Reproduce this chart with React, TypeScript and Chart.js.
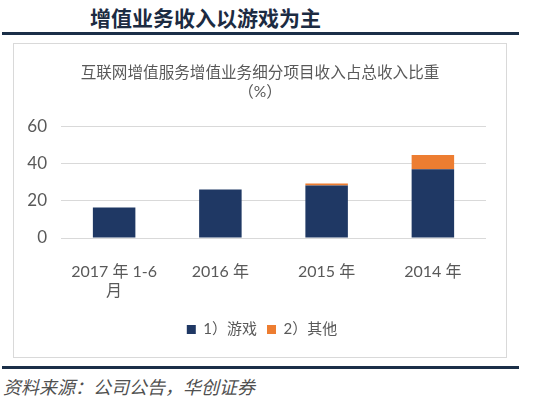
import React, { useEffect, useRef } from "react";
import { Chart, registerables } from "chart.js";

Chart.register(...registerables);

const pageTitle = "增值业务收入以游戏为主";
const chartTitle = ["互联网增值服务增值业务细分项目收入占总收入比重", "（%）"];
const sourceText = "资料来源：公司公告，华创证券";

const categories: (string | string[])[] = [["2017 年 1-6", "月"], "2016 年", "2015 年", "2014 年"];
const seriesNames = ["1）游戏", "2）其他"];
const gameValues = [16.5, 26.2, 28.4, 37.2];
const otherValues = [0, 0, 1.0, 7.6];
const yTicks = [0, 20, 40, 60];

const FONT = "Lato, 'Noto Sans CJK SC', sans-serif";
const NAVY = "#1f3864";
const ORANGE = "#ed7d31";
const GRAY_TEXT = "#595959";

// Centre title and legend over the whole chart frame (as in the reference), not the padded layout box
const centrePlugin = {
  id: "frameCentre",
  afterLayout(chart: any) {
    if (chart.legend) chart.legend.left += 24;
    if (chart.titleBlock) chart.titleBlock.left += 20;
  },
};

export default function App() {
  const canvasRef = useRef<HTMLCanvasElement | null>(null);

  useEffect(() => {
    const canvas = canvasRef.current;
    if (!canvas) return;
    const chart = new Chart(canvas, {
      type: "bar",
      data: {
        labels: categories as any,
        datasets: [
          { label: seriesNames[0], data: gameValues, backgroundColor: NAVY, borderWidth: 0 },
          { label: seriesNames[1], data: otherValues, backgroundColor: ORANGE, borderWidth: 0 },
        ],
      },
      plugins: [centrePlugin],
      options: {
        animation: false,
        responsive: false,
        maintainAspectRatio: false,
        layout: { padding: { left: 0, right: 20, top: 0, bottom: 10 } },
        datasets: { bar: { categoryPercentage: 1, barPercentage: 0.4 } },
        plugins: {
          title: {
            display: true,
            text: chartTitle,
            color: GRAY_TEXT,
            font: { family: FONT, size: 15.6, weight: "normal", lineHeight: 1.22 },
            padding: { top: 18, bottom: 25.9 },
          },
          legend: {
            display: true,
            position: "bottom",
            labels: {
              color: GRAY_TEXT,
              font: { family: FONT, size: 15 },
              boxWidth: 9,
              boxHeight: 9,
              padding: 10,
            },
          },
          tooltip: { enabled: false },
        },
        scales: {
          x: {
            stacked: true,
            grid: { display: false },
            border: { display: false },
            ticks: {
              color: GRAY_TEXT,
              font: { family: FONT, size: 16, lineHeight: 1.2 },
              padding: 16,
              maxRotation: 0,
              autoSkip: false,
            },
            afterFit: (scale: any) => {
              scale.height = 74;
            },
          },
          y: {
            stacked: true,
            min: yTicks[0],
            max: yTicks[yTicks.length - 1],
            grid: { color: "#d9d9d9", lineWidth: 1, drawTicks: false },
            border: { display: false },
            ticks: {
              stepSize: 20,
              color: GRAY_TEXT,
              font: { family: FONT, size: 17 },
              padding: 14,
            },
            afterFit: (scale: any) => {
              scale.width = 47;
            },
          },
        },
      },
    });
    return () => chart.destroy();
  }, []);

  return (
    <div
      style={{
        position: "fixed",
        left: 0,
        top: 0,
        width: 554,
        height: 399,
        background: "#ffffff",
        overflow: "hidden",
        fontFamily: FONT,
      }}
    >
      <div
        style={{
          position: "absolute",
          left: 90,
          top: 3,
          fontSize: 21,
          lineHeight: "28px",
          fontWeight: "bold",
          color: "#1c2b42",
          fontFamily: "'Noto Sans CJK SC', sans-serif",
          whiteSpace: "nowrap",
        }}
      >
        {pageTitle}
      </div>
      <div style={{ position: "absolute", left: 2, top: 32, width: 517, height: 3, background: "#1b2f48" }} />
      <div
        style={{
          position: "absolute",
          left: 13,
          top: 43,
          width: 492,
          height: 313,
          border: "1px solid #d9d9d9",
          background: "#ffffff",
        }}
      />
      <canvas
        ref={canvasRef}
        width={492}
        height={312}
        style={{ position: "absolute", left: 14, top: 45, width: 492, height: 312 }}
      />
      <div style={{ position: "absolute", left: 2, top: 366, width: 517, height: 3, background: "#1b2f48" }} />
      <div
        style={{
          position: "absolute",
          left: 3,
          top: 374,
          fontSize: 18,
          lineHeight: "25px",
          fontStyle: "italic",
          color: "#505050",
          fontFamily: "'Noto Sans CJK SC', sans-serif",
          whiteSpace: "nowrap",
        }}
      >
        {sourceText}
      </div>
    </div>
  );
}
